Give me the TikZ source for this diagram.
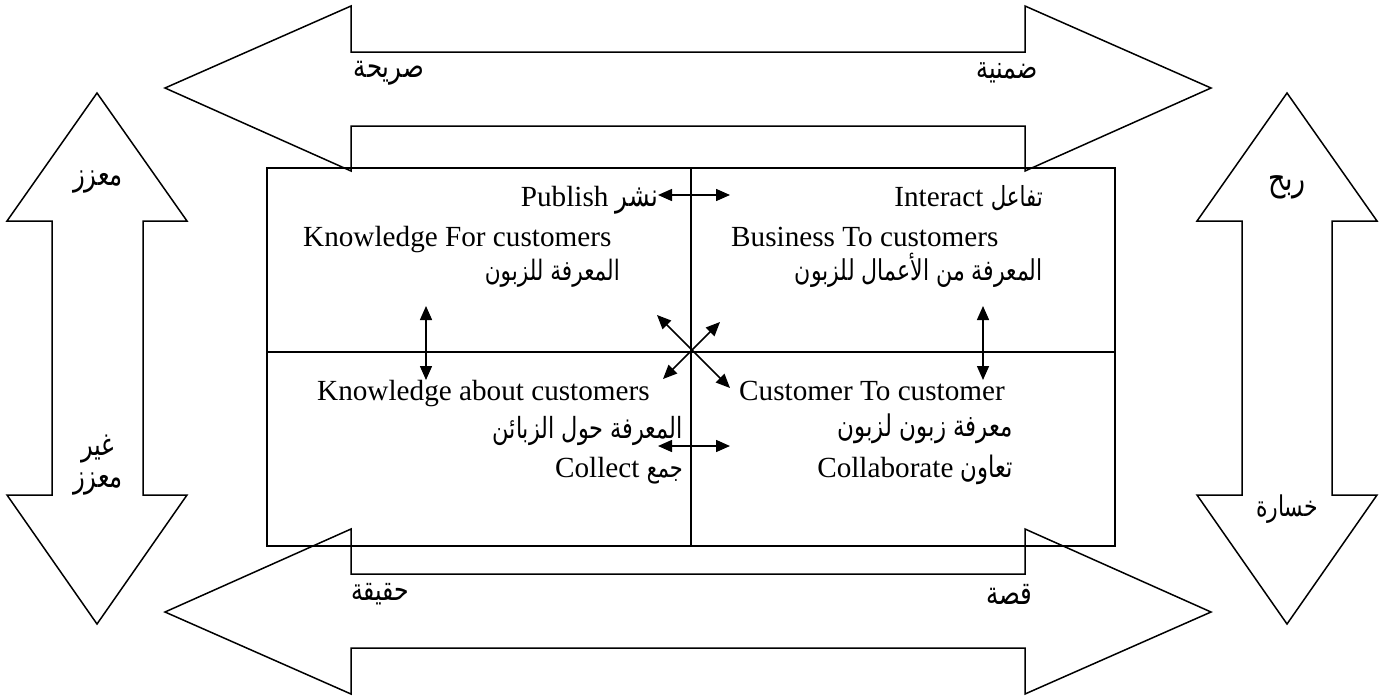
\documentclass[tikz,border=0pt]{standalone}
\usepackage{fontspec}
\usepackage{graphicx}
\setmainfont{Liberation Serif}
\newfontfamily\arabicfont[Script=Arabic]{DejaVu Sans}
\TeXXeTstate=1
\usetikzlibrary{arrows.meta}
% Arabic run scaled to a given width, then drawn a little taller
\newcommand\artxt[2]{\scalebox{1}[1.3]{\resizebox{#1pt}{!}{\arabicfont #2}}}

\begin{document}
\begin{tikzpicture}[x=1pt,y=-1pt,
  bigarrow/.style={line width=1.5pt, line join=miter},
  frame/.style={line width=1.7pt},
  divider/.style={line width=1.4pt},
  link/.style={line width=1.5pt, >={Triangle[length=14pt,width=12pt]}, <->},
  latin/.style={inner sep=0pt, font=\fontsize{29.2}{34}\selectfont},
  tag/.style={inner sep=0pt}]

% page
\fill[white] (0,0) rectangle (1383,697);
\useasboundingbox (0,0) rectangle (1383,697);

% horizontal double arrows (top and bottom)
\draw[bigarrow] (165,88) -- (351,6) -- (351,52) -- (1025,52) -- (1025,6) -- (1211,88)
  -- (1025,171) -- (1025,126) -- (351,126) -- (351,171) -- cycle;
\draw[bigarrow] (165,612) -- (351,529) -- (351,574) -- (1025,574) -- (1025,529) -- (1211,612)
  -- (1025,694) -- (1025,648) -- (351,648) -- (351,694) -- cycle;

% vertical double arrows (left and right)
\draw[bigarrow] (97,93) -- (187,221) -- (143,221) -- (143,495) -- (187,495) -- (97,624)
  -- (7,495) -- (52,495) -- (52,221) -- (7,221) -- cycle;
\draw[bigarrow] (1287,93) -- (1377,221) -- (1332,221) -- (1332,495) -- (1377,495) -- (1287,624)
  -- (1197,495) -- (1242,495) -- (1242,221) -- (1197,221) -- cycle;

% the four-quadrant frame
\draw[frame] (267,168) rectangle (1115,546);
\draw[divider] (691,168) -- (691,546);
\draw[divider] (267,352) -- (1115,352);

% arrow labels
\node[tag] (explicit) at (389,73) {\artxt{70}{\beginR صريحة\endR}};
\node[tag] (implicit) at (1007,73) {\artxt{61}{\beginR ضمنية\endR}};
\node[tag] (fact) at (380,594) {\artxt{58}{\beginR حقيقة\endR}};
\node[tag] (story) at (1009,594) {\artxt{46}{\beginR قصة\endR}};
\node[tag] (valued) at (98,182) {\artxt{50}{\beginR معزز\endR}};
\node[tag] (notword) at (98,449) {\artxt{33}{\beginR غير\endR}};
\node[tag] (notvalued) at (98,484) {\artxt{50}{\beginR معزز\endR}};
\node[tag] (profit) at (1287,187) {\artxt{38}{\beginR ربح\endR}};
\node[tag] (loss) at (1287,509) {\artxt{62}{\beginR خسارة\endR}};

% top-left quadrant
\node[latin, anchor=base east] (publish) at (658,206) {Publish \artxt{42}{\beginR نشر\endR}};
\node[latin, anchor=base west] (kfor) at (303,246) {Knowledge For customers};
\node[tag, anchor=base east] (kforar) at (620,280) {\artxt{135}{\beginR المعرفة للزبون\endR}};

% top-right quadrant
\node[latin, anchor=base east] (interact) at (1043,206) {Interact \artxt{52}{\beginR تفاعل\endR}};
\node[latin, anchor=base west] (btoc) at (731,246) {Business To customers};
\node[tag, anchor=base east] (btocar) at (1043,280) {\artxt{248}{\beginR المعرفة من الأعمال للزبون\endR}};

% bottom-left quadrant
\node[latin, anchor=base west] (kabout) at (317,400) {Knowledge about customers};
\node[tag, anchor=base east] (kaboutar) at (683,438) {\artxt{190}{\beginR المعرفة حول الزبائن\endR}};
\node[latin, anchor=base east] (collect) at (683,477) {Collect \artxt{36}{\beginR جمع\endR}};

% bottom-right quadrant
\node[latin, anchor=base west] (ctoc) at (739,400) {Customer To customer};
\node[tag, anchor=base east] (ctocar) at (1013,436) {\artxt{175}{\beginR معرفة زبون لزبون\endR}};
\node[latin, anchor=base east] (collab) at (1013,477) {Collaborate \artxt{52}{\beginR تعاون\endR}};

% ends of the small two-way arrows
\coordinate (pubL) at (658,195);
\coordinate (pubR) at (730,195);
\coordinate (colL) at (658,446);
\coordinate (colR) at (730,446);
\coordinate (leftT) at (426,306);
\coordinate (leftB) at (426,380);
\coordinate (rightT) at (983,306);
\coordinate (rightB) at (983,380);
\coordinate (nw) at (657,315);
\coordinate (se) at (730,388);
\coordinate (ne) at (720,322);
\coordinate (sw) at (663,379);

\draw[link] (pubL) -- (pubR);
\draw[link] (colL) -- (colR);
\draw[link] (leftT) -- (leftB);
\draw[link] (rightT) -- (rightB);
\draw[link] (nw) -- (se);
\draw[link] (ne) -- (sw);

\end{tikzpicture}
\end{document}
